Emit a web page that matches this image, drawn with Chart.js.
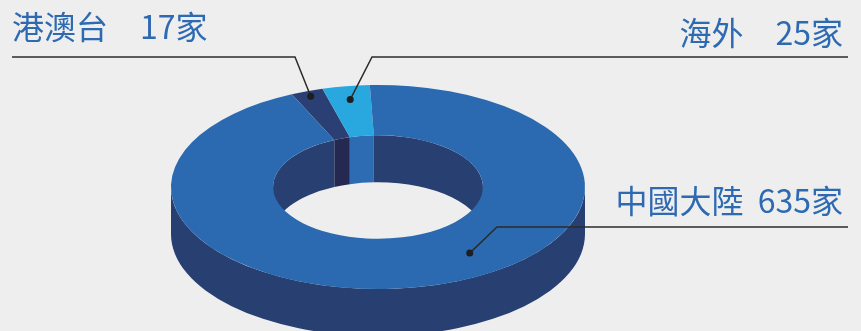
<!DOCTYPE html>
<html>
<head>
<meta charset="utf-8">
<script src="https://cdn.jsdelivr.net/npm/chart.js@4"></script>
<style>
  html, body { margin: 0; padding: 0; background: #eeeeee; overflow: hidden; }
  #wrap { width: 861px; height: 331px; position: relative; }
</style>
</head>
<body>
<div id="wrap"><canvas id="chart"></canvas></div>
<script>
const labels = ["港澳台", "海外", "中國大陸"];
const counts = [17, 25, 635];
const unit = "家";

const topColors = ["#2a3f73", "#29a8df", "#2b6ab0"];
const sideColors = ["#252850", "#2d6cb2", "#283f72"];

// fake 3D ring look
const RING_RX = 207;  // on-screen horizontal radius
const TILT = 0.493;   // vertical squash
const DEPTH = 47;     // extrusion in screen px

// callout placement (position / style only)
const calloutStyle = [
  { along: 0.5, radial: 0.947, lineX: 12, elbowX: 295, lineY: 57, textX: 12, textY: 39, align: "left", sep: "\u3000" },
  { along: 0.5, radial: 0.867, lineX: 848, elbowX: 372, lineY: 57, textX: 843, textY: 45, align: "right", sep: "\u3000" },
  { along: 0.438, radial: 0.785, lineX: 848, elbowX: 497, lineY: 227, textX: 843, textY: 213, align: "right", sep: "  " },
];

function ringScale(arc) {
  const sx = RING_RX / arc.outerRadius;
  return { sx: sx, sy: sx * TILT };
}

// parts of [a0,a1] that fall inside [lo,hi] (mod 2PI)
function overlap(a0, a1, lo, hi) {
  const out = [];
  for (let k = -2; k <= 2; k++) {
    const s = lo + k * 2 * Math.PI, e = hi + k * 2 * Math.PI;
    const from = Math.max(a0, s), to = Math.min(a1, e);
    if (to > from) out.push([from, to]);
  }
  return out;
}

// band swept by an arc moved straight down by dy
function wall(ctx, x, y, r, from, to, dy) {
  ctx.beginPath();
  ctx.arc(x, y, r, from, to);
  ctx.arc(x, y + dy, r, to, from, true);
  ctx.closePath();
  ctx.fill();
}

const ring3d = {
  id: "ring3d",
  beforeDatasetsDraw(chart) {
    const ctx = chart.ctx;
    const arcs = chart.getDatasetMeta(0).data;
    const { x, y } = arcs[0];
    const { sx, sy } = ringScale(arcs[0]);
    const dy = DEPTH / sy;
    ctx.save();
    ctx.translate(x, y);
    ctx.scale(sx, sy);
    ctx.translate(-x, -y);
    arcs.forEach((arc, i) => {
      ctx.fillStyle = sideColors[i];
      // outer wall, front half
      overlap(arc.startAngle, arc.endAngle, 0, Math.PI).forEach(([f, t]) =>
        wall(ctx, arc.x, arc.y, arc.outerRadius, f, t, dy));
      // inner wall, back half (seen through the hole)
      overlap(arc.startAngle, arc.endAngle, -Math.PI, 0).forEach(([f, t]) =>
        wall(ctx, arc.x, arc.y, arc.innerRadius, f, t, dy));
    });
  },
  afterDatasetsDraw(chart) {
    chart.ctx.restore();
  }
};

const callouts = {
  id: "callouts",
  afterDraw(chart) {
    const ctx = chart.ctx;
    const arcs = chart.getDatasetMeta(0).data;
    const { sx, sy } = ringScale(arcs[0]);
    ctx.save();
    labels.forEach((name, i) => {
      const c = calloutStyle[i];
      const arc = arcs[i];
      const a = arc.startAngle + c.along * (arc.endAngle - arc.startAngle);
      const r = arc.outerRadius * c.radial;
      const px = arc.x + sx * r * Math.cos(a);
      const py = arc.y + sy * r * Math.sin(a);

      ctx.strokeStyle = "#2b2b2b";
      ctx.lineWidth = 1.5;
      ctx.beginPath();
      ctx.moveTo(c.lineX, c.lineY);
      ctx.lineTo(c.elbowX, c.lineY);
      ctx.lineTo(px, py);
      ctx.stroke();

      ctx.fillStyle = "#1e1e1e";
      ctx.beginPath();
      ctx.arc(px, py, 3.5, 0, Math.PI * 2);
      ctx.fill();

      ctx.fillStyle = "#2e6ab2";
      ctx.font = '32px "Noto Sans CJK TC"';
      ctx.textAlign = c.align;
      ctx.textBaseline = "alphabetic";
      ctx.fillText(name + c.sep + counts[i] + unit, c.textX, c.textY);
    });
    ctx.restore();
  }
};

new Chart(document.getElementById("chart"), {
  type: "doughnut",
  data: {
    labels: labels,
    datasets: [{
      data: counts,
      backgroundColor: topColors,
      borderWidth: 0,
      hoverOffset: 0,
      clip: false,
    }],
  },
  options: {
    responsive: true,
    maintainAspectRatio: false,
    animation: false,
    events: [],
    cutout: "50.7%",
    rotation: -24.6,
    layout: { padding: { top: 43, right: 105, bottom: 0, left: 0 } },
    plugins: {
      legend: { display: false },
      tooltip: { enabled: false },
    },
  },
  plugins: [ring3d, callouts],
});
</script>
</body>
</html>
